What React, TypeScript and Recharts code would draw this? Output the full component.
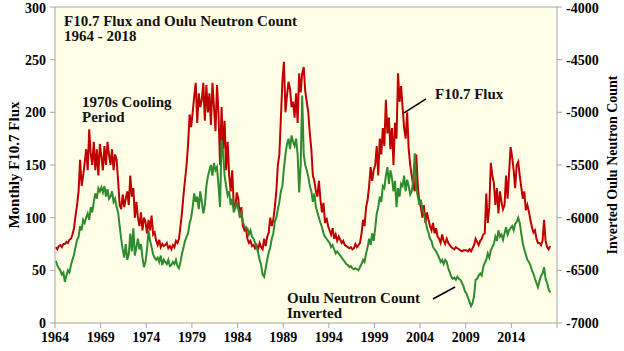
import { LineChart, Line, XAxis, YAxis, CartesianGrid, ReferenceLine, Label } from 'recharts'

// bimonthly samples (6 per year), Jan 1964 .. Apr 2018
const START_YEAR = 1964
const PER_YEAR = 6

// Monthly F10.7 solar flux (left axis)
const f107 = [
	72, 70, 73, 74, 72, 75, // 1964
	75, 77, 76, 79, 80, 84,
	90, 102, 112, 125, 155, 130,
	140, 152, 165, 145, 184, 160,
	150, 172, 145, 165, 140, 170,
	158, 145, 168, 150, 172, 160, // 1969
	150, 165, 145, 160, 155, 135,
	112, 108, 122, 110, 118, 125,
	112, 140, 120, 128, 100, 115,
	100, 92, 105, 88, 100, 96,
	85, 98, 88, 102, 84, 86, // 1974
	78, 74, 79, 72, 75, 73,
	74, 76, 71, 73, 70, 74,
	72, 78, 76, 80, 92, 105,
	122, 136, 150, 170, 198, 186,
	200, 215, 228, 190, 218, 205, // 1979
	212, 228, 192, 226, 200, 218,
	188, 228, 205, 182, 226, 198,
	150, 205, 165, 192, 145, 172,
	140, 125, 145, 112, 108, 124,
	118, 100, 110, 92, 88, 90, // 1984
	80, 76, 78, 73, 74, 71,
	74, 70, 76, 72, 70, 80,
	73, 82, 86, 100, 92, 98,
	110, 125, 150, 160, 195, 230,
	248, 200, 216, 229, 222, 205, // 1989
	210, 195, 218, 190, 237, 219,
	237, 243, 220, 210, 200, 180,
	165, 140, 135, 125, 120, 135,
	117, 105, 114, 95, 100, 92,
	88, 84, 90, 80, 84, 78, // 1994
	82, 79, 76, 78, 74, 73,
	72, 71, 72, 70, 71, 75,
	72, 74, 76, 85, 98, 92,
	110, 117, 130, 148, 135, 145,
	150, 168, 140, 175, 160, 185, // 1999
	168, 212, 180, 195, 165, 185,
	150, 190, 175, 237, 210, 225,
	205, 185, 175, 200, 165, 150,
	140, 130, 125, 160, 130, 115,
	110, 100, 112, 95, 105, 98, // 2004
	92, 88, 95, 85, 90, 82,
	80, 76, 84, 78, 75, 80,
	76, 74, 72, 71, 70, 72,
	71, 70, 69, 68, 69, 69,
	69, 68, 70, 68, 71, 74, // 2009
	80, 77, 74, 78, 80, 84,
	85, 123, 95, 110, 152, 140,
	133, 112, 128, 104, 125, 115,
	108, 112, 140, 118, 142, 167,
	158, 145, 128, 150, 153, 140, // 2014
	129, 118, 125, 107, 112, 106,
	98, 91, 86, 88, 80, 76,
	76, 74, 78, 98, 78, 72,
	70, 73, // 2018
]

// Oulu neutron monitor count, inverted (right axis)
const ouluInverted = [
	-6410, -6450, -6480, -6500, -6540, -6520, // 1964
	-6610, -6550, -6500, -6520, -6450, -6400,
	-6350, -6280, -6210, -6180, -6080, -6120,
	-6020, -6050, -6000, -5960, -6020, -5900,
	-5950, -5850, -5770, -5820, -5720, -5750,
	-5710, -5760, -5700, -5800, -5730, -5820, // 1969
	-5800, -5750, -5850, -5820, -5900, -5950,
	-6080, -6200, -6300, -6380, -6250, -6400,
	-6350, -6150, -6320, -6100, -6360, -6280,
	-6200, -6300, -6250, -6380, -6470, -6420,
	-6300, -6120, -6220, -6280, -6350, -6380, // 1974
	-6400, -6380, -6420, -6360, -6450, -6400,
	-6420, -6440, -6400, -6460, -6450, -6420,
	-6440, -6400, -6460, -6480, -6420, -6340,
	-6280, -6220, -6180, -6150, -6050, -6000,
	-5900, -5770, -5850, -5800, -5920, -5750, // 1979
	-5850, -5960, -5880, -5700, -5610, -5550,
	-5500, -5600, -5480, -5550, -5520, -5700,
	-5900, -5260, -5380, -5600, -5700, -5790,
	-5750, -5880, -5820, -5950, -5900, -5850,
	-5920, -5980, -5950, -6040, -6080, -6100, // 1984
	-6100, -6160, -6120, -6180, -6200, -6240,
	-6280, -6330, -6400, -6450, -6540, -6560,
	-6480, -6400, -6330, -6280, -6200, -6150,
	-6040, -6000, -5920, -5850, -5750, -5700,
	-5530, -5400, -5300, -5250, -5350, -5220, // 1989
	-5280, -5320, -5250, -5400, -5760, -5500,
	-4840, -5400, -5500, -5550, -5610, -5700,
	-5750, -5850, -5770, -5900, -5950, -6000,
	-6050, -6090, -6150, -6180, -6200, -6220,
	-6240, -6280, -6260, -6300, -6340, -6320, // 1994
	-6340, -6360, -6380, -6400, -6420, -6440,
	-6450, -6470, -6460, -6480, -6490, -6480,
	-6490, -6500, -6470, -6440, -6400, -6420,
	-6340, -6280, -6200, -6260, -6150, -6220,
	-6100, -5960, -5900, -5800, -5850, -5700, // 1999
	-5720, -5600, -5520, -5680, -5550, -5620,
	-5750, -5650, -5900, -5720, -5800, -5680,
	-5700, -5600, -5750, -5640, -5700, -5780,
	-5750, -5650, -5390, -5720, -5800, -5880,
	-5830, -5920, -5960, -6020, -6100, -6140, // 2004
	-6200, -6220, -6280, -6300, -6320, -6350,
	-6380, -6420, -6400, -6440, -6400, -6420,
	-6480, -6520, -6560, -6580, -6570, -6590,
	-6560, -6580, -6590, -6620, -6650, -6700,
	-6720, -6760, -6800, -6840, -6810, -6740, // 2009
	-6590, -6580, -6550, -6530, -6550, -6470,
	-6430, -6400, -6340, -6380, -6310, -6280,
	-6250, -6180, -6220, -6120, -6180, -6160,
	-6210, -6150, -6090, -6160, -6120, -6100,
	-6080, -6120, -6060, -6040, -6000, -6050, // 2014
	-6150, -6240, -6300, -6350, -6400, -6420,
	-6450, -6500, -6530, -6580, -6620, -6660,
	-6600, -6550, -6530, -6470, -6580, -6620,
	-6680, -6710, // 2018
]

const yearTicks = [1964, 1969, 1974, 1979, 1984, 1989, 1994, 1999, 2004, 2009, 2014, 2019]
const fluxTicks = [0, 50, 100, 150, 200, 250, 300]
const neutronTicks = [-7000, -6500, -6000, -5500, -5000, -4500, -4000]

const data = f107.map((flux, i) => ({
	year: START_YEAR + (i + 0.5) / PER_YEAR,
	flux,
	neutron: ouluInverted[i],
}))

const FONT = "'Liberation Serif', 'Times New Roman', serif"
const AXIS = '#A6A6A6'
const RED = '#C00000'
const GREEN = '#2E8B2E'

const tickStyle = { fill: '#000', fontFamily: FONT, fontWeight: 700, fontSize: 14 }

const note = (left: number, top: number, text: string[]) => (
	<div
		style={{
			position: 'absolute',
			left,
			top,
			fontFamily: FONT,
			fontWeight: 700,
			fontSize: 15,
			lineHeight: '15px',
			color: '#111',
			whiteSpace: 'nowrap',
		}}
	>
		{text.map((t) => (
			<div key={t}>{t}</div>
		))}
	</div>
)

export default function App() {
	return (
		<div style={{ position: 'absolute', left: 0, top: 0, width: 624, height: 351, background: '#fff' }}>
			<LineChart width={624} height={351} data={data} margin={{ top: 7, right: 0, bottom: 0, left: 0 }}>
				<CartesianGrid fill='#FFFFE8' horizontal={false} vertical={false} stroke='none' />
				<XAxis
					dataKey='year'
					type='number'
					domain={[1964, 2019]}
					ticks={yearTicks}
					tickFormatter={(v) => (v === 2019 ? '' : String(v))}
					height={28}
					stroke={AXIS}
					tickSize={5}
					tickMargin={4}
					tick={tickStyle}
				/>
				<YAxis
					yAxisId='left'
					domain={[0, 300]}
					ticks={fluxTicks}
					width={55}
					stroke={AXIS}
					tickSize={5}
					tickMargin={4}
					tick={tickStyle}
				>
					<Label
						value='Monthly F10.7 Flux'
						angle={-90}
						position='center'
						dx={-14}
						style={{ fill: '#000', fontFamily: FONT, fontWeight: 700, fontSize: 15 }}
					/>
				</YAxis>
				<YAxis
					yAxisId='right'
					orientation='right'
					domain={[-7000, -4000]}
					ticks={neutronTicks}
					width={67}
					stroke={AXIS}
					tickSize={5}
					tickMargin={4}
					tick={tickStyle}
				>
					<Label
						value='Inverted Oulu Neutron Count'
						angle={-90}
						position='center'
						dx={22}
						style={{ fill: '#000', fontFamily: FONT, fontWeight: 700, fontSize: 14 }}
					/>
				</YAxis>
				<ReferenceLine yAxisId='left' y={300} stroke={AXIS} />
				<Line
					yAxisId='left'
					dataKey='flux'
					stroke={RED}
					strokeWidth={2}
					dot={false}
					isAnimationActive={false}
				/>
				<Line
					yAxisId='right'
					dataKey='neutron'
					stroke={GREEN}
					strokeWidth={2}
					dot={false}
					isAnimationActive={false}
				/>
				<ReferenceLine
					yAxisId='left'
					segment={[{ x: 2004.65, y: 212.7 }, { x: 2002.24, y: 199.4 }]}
					stroke='#000'
					strokeWidth={1.5}
				/>
				<ReferenceLine
					yAxisId='left'
					segment={[{ x: 2005.41, y: 22.8 }, { x: 2007.83, y: 34.2 }]}
					stroke='#000'
					strokeWidth={1.5}
				/>
			</LineChart>
			{note(64, 14, ['F10.7 Flux and Oulu Neutron Count', '1964 - 2018'])}
			{note(82, 95, ['1970s Cooling', 'Period'])}
			{note(435, 87, ['F10.7 Flux'])}
			{note(287, 291, ['Oulu Neutron Count', 'Inverted'])}
		</div>
	)
}
